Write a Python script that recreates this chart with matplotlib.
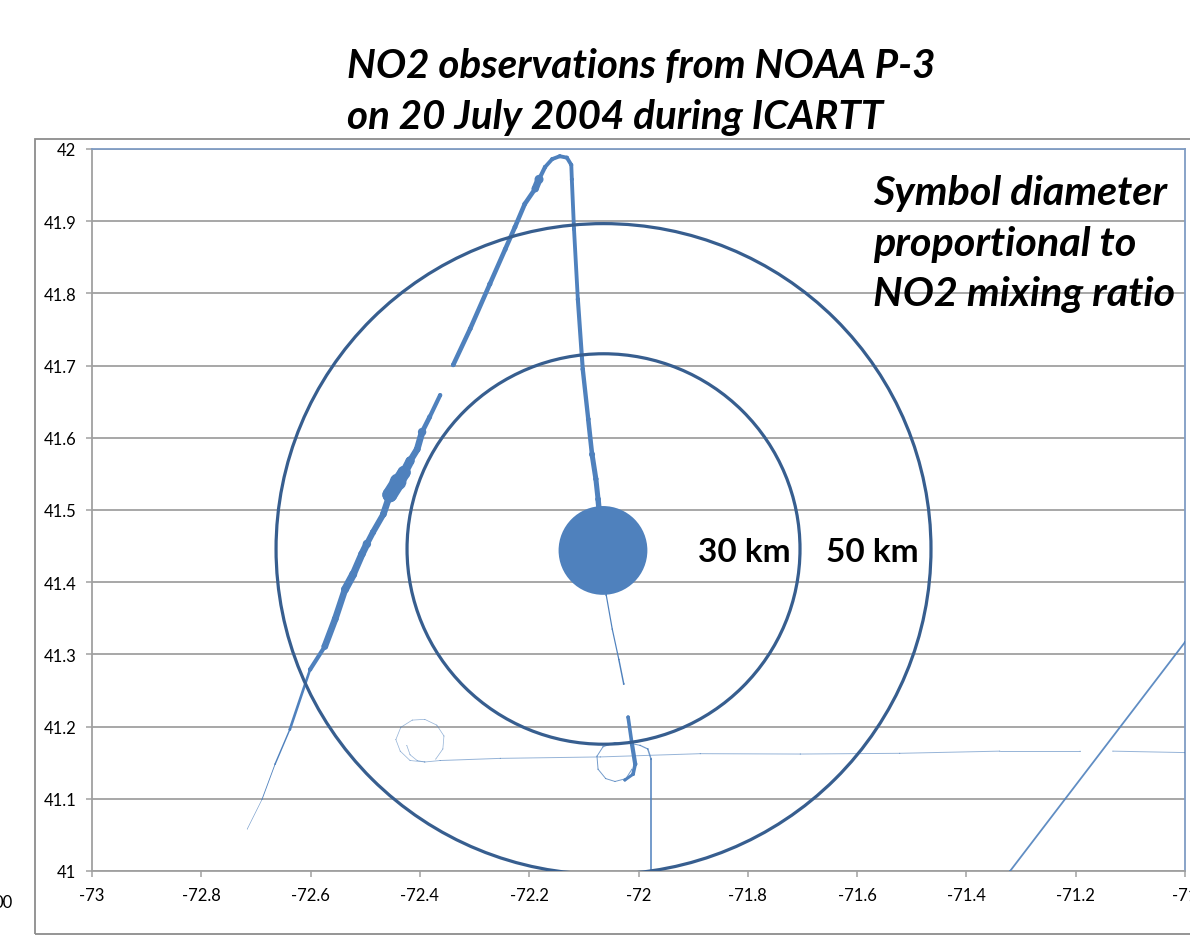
import matplotlib
matplotlib.use("Agg")
import matplotlib.pyplot as plt
import numpy as np
from matplotlib.collections import LineCollection
from matplotlib.patches import Ellipse, Rectangle
from matplotlib.ticker import MultipleLocator, FuncFormatter

plt.rcParams['font.family'] = ['Lato', 'DejaVu Sans']

# flight legs: lon, lat, NO2 (ppbv, sets symbol diameter)
sw_lon = [-72.716, -72.689, -72.665, -72.638, -72.601, -72.574, -72.555, -72.537, -72.522,
          -72.506, -72.497, -72.486, -72.467, -72.455, -72.440, -72.429, -72.418, -72.405,
          -72.396, -72.382, -72.363]
sw_lat = [41.058, 41.099, 41.148, 41.196, 41.279, 41.311, 41.349, 41.390, 41.411,
          41.439, 41.453, 41.469, 41.494, 41.521, 41.539, 41.552, 41.568, 41.584,
          41.608, 41.629, 41.659]
sw_no2 = [0.4, 0.7, 1.2, 2.2, 3.5, 5.5, 5.5, 6.5, 6.5,
          6.0, 7.0, 5.0, 5.5, 12.5, 14.0, 11.0, 7.5, 5.5,
          7.0, 4.0, 3.5]

north_lon = [-72.339, -72.308, -72.272, -72.244, -72.226, -72.208, -72.189, -72.182, -72.171,
             -72.158, -72.144, -72.131, -72.123, -72.122, -72.118, -72.111, -72.102, -72.092,
             -72.085, -72.078, -72.074, -72.065, -72.059, -72.048, -72.036, -72.027]
north_lat = [41.701, 41.751, 41.813, 41.861, 41.892, 41.924, 41.945, 41.958, 41.975,
             41.986, 41.990, 41.988, 41.978, 41.958, 41.889, 41.792, 41.695, 41.626,
             41.577, 41.543, 41.515, 41.444, 41.382, 41.335, 41.293, 41.259]
north_no2 = [3.8, 3.8, 4.2, 3.8, 3.8, 3.8, 6.0, 7.5, 3.5,
             3.2, 3.2, 3.2, 3.2, 3.2, 3.2, 3.4, 3.6, 3.8,
             5.0, 4.2, 4.5, 74.0, 1.2, 1.0, 1.2, 1.5]

hook_lon = [-72.019, -72.012, -72.006, -72.010, -72.025]
hook_lat = [41.213, 41.176, 41.148, 41.134, 41.126]
hook_no2 = [3.0, 3.5, 3.5, 3.0, 2.5]

south_lon = [-71.977, -71.977, -71.983, -71.997, -72.016, -72.043, -72.065, -72.076, -72.074,
             -72.060, -72.043, -72.023, -72.012]
south_lat = [40.980, 41.155, 41.169, 41.174, 41.177, 41.178, 41.172, 41.159, 41.141,
             41.128, 41.124, 41.128, 41.141]
south_no2 = [1.6, 1.6, 1.2, 1.0, 0.8, 0.8, 0.8, 0.8, 0.8,
             0.8, 0.8, 0.8, 0.8]

east_lon = [-70.950, -71.000, -71.132]
east_lat = [41.165, 41.164, 41.166]
east_no2 = [0.8, 0.8, 0.8]

west_lon = [-71.192, -71.339, -71.522, -71.704, -71.887, -72.070, -72.253, -72.363, -72.391,
            -72.418, -72.436, -72.444, -72.435, -72.414, -72.391, -72.369, -72.356, -72.358,
            -72.371]
west_lat = [41.166, 41.166, 41.163, 41.162, 41.1625, 41.158, 41.156, 41.153, 41.151,
            41.153, 41.166, 41.182, 41.199, 41.209, 41.210, 41.202, 41.187, 41.169,
            41.155]
west_no2 = [0.8, 0.9, 0.8, 0.8, 0.8, 0.8, 0.8, 0.8, 0.7,
            0.6, 0.6, 0.6, 0.6, 0.6, 0.6, 0.6, 0.6, 0.6,
            0.6]

spiral_lon = [-72.424, -72.418, -72.405, -72.391]
spiral_lat = [41.174, 41.161, 41.153, 41.151]
spiral_no2 = [0.6, 0.6, 0.6, 0.6]

ne_lon = [-71.340, -71.320, -71.000, -70.950]
ne_lat = [40.980, 41.000, 41.317, 41.366]
ne_no2 = [1.5, 1.5, 1.5, 1.5]

center_lon, center_lat = -72.064, 41.446
ring_km = [30, 50]

TRACK = "#4F81BD"
RING = "#375E8F"
GRID = "#A0A0A0"
PT_PER_PPB = 0.864


def draw_leg(ax, lon, lat, no2, alpha=1.0):
    lon, lat, no2 = np.asarray(lon), np.asarray(lat), np.asarray(no2)
    pts = np.column_stack([lon, lat])
    segs = np.stack([pts[:-1], pts[1:]], axis=1)
    widths = np.minimum(no2[:-1], no2[1:]) * PT_PER_PPB
    ax.add_collection(LineCollection(segs, linewidths=widths, colors=TRACK, alpha=alpha,
                                     capstyle="round", joinstyle="round", zorder=3))
    ax.scatter(lon, lat, s=(no2 * PT_PER_PPB) ** 2, c=TRACK, alpha=alpha, lw=0, zorder=3)


fig = plt.figure(figsize=(11.9, 9.37), dpi=100)
ax = fig.add_axes([92 / 1190, 1 - 872 / 937, 1093 / 1190, 722 / 937])

draw_leg(ax, sw_lon, sw_lat, sw_no2)
draw_leg(ax, north_lon, north_lat, north_no2)
draw_leg(ax, hook_lon, hook_lat, hook_no2)
draw_leg(ax, south_lon, south_lat, south_no2, alpha=0.8)
draw_leg(ax, east_lon, east_lat, east_no2, alpha=0.6)
draw_leg(ax, west_lon, west_lat, west_no2, alpha=0.6)
draw_leg(ax, spiral_lon, spiral_lat, spiral_no2, alpha=0.6)
draw_leg(ax, ne_lon, ne_lat, ne_no2, alpha=0.9)

for r in ring_km:
    w = 2 * r / (111.32 * np.cos(np.radians(center_lat)))
    h = 2 * r / 110.95
    ax.add_patch(Ellipse((center_lon, center_lat), w, h, fill=False, ec=RING, lw=2.3, zorder=4))

ax.text(-71.891, 41.442, "30 km", ha="left", va="center", fontsize=24, fontweight="bold", zorder=5)
ax.text(-71.657, 41.442, "50 km", ha="left", va="center", fontsize=24, fontweight="bold", zorder=5)

ax.set_xlim(-73, -71)
ax.set_ylim(41, 42)
ax.xaxis.set_major_locator(MultipleLocator(0.2))
ax.yaxis.set_major_locator(MultipleLocator(0.1))
fmt = FuncFormatter(lambda v, p: f"{v:.1f}".rstrip("0").rstrip("."))
ax.xaxis.set_major_formatter(fmt)
ax.yaxis.set_major_formatter(fmt)
ax.grid(axis="y", color=GRID, lw=1.3)
ax.set_axisbelow(True)
ax.tick_params(length=4.5, width=1.1, color=GRID, labelsize=12, pad=7)
for side in ("left", "bottom"):
    ax.spines[side].set_color(GRID)
    ax.spines[side].set_linewidth(1.3)
for side in ("top", "right"):
    ax.spines[side].set_color("#7F9CC4")
    ax.spines[side].set_linewidth(1.3)

# chart area frame
fig.patches.append(Rectangle((35 / 1190, 2 / 937), 1.2, 1 - 142 / 937, transform=fig.transFigure,
                             fill=False, ec="#8C8C8C", lw=1.3))

fig.text(347 / 1190, 1 - 78 / 937, "NO2 observations from NOAA P-3", fontsize=29,
         fontweight="bold", style="italic", ha="left", va="baseline")
fig.text(347 / 1190, 1 - 129 / 937, "on 20 July 2004 during ICARTT", fontsize=29,
         fontweight="bold", style="italic", ha="left", va="baseline")
for txt, yb in [("Symbol diameter", 205), ("proportional to", 256), ("NO2 mixing ratio", 306)]:
    fig.text(873 / 1190, 1 - yb / 937, txt, fontsize=29.8, fontweight="bold", style="italic",
             ha="left", va="baseline")
fig.text(13 / 1190, 1 - 903 / 937, "00", fontsize=12, ha="right", va="center")

fig.savefig("out.png", dpi=100)
plt.close(fig)
